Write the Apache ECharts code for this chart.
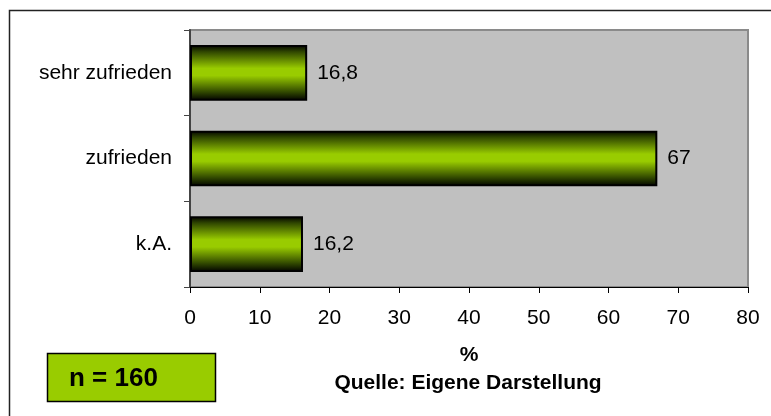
<!DOCTYPE html>
<html>
<head>
<meta charset="utf-8">
<script src="https://cdn.jsdelivr.net/npm/echarts@6/dist/echarts.min.js"></script>
<style>
  html, body { margin: 0; padding: 0; background: #fff; }
  #chart { width: 771px; height: 416px; }
</style>
</head>
<body>
<div id="chart"></div>
<script>
// Satisfaction ratings (percent of respondents)
const categories = ['sehr zufrieden', 'zufrieden', 'k.A.'];
const values = [16.8, 67, 16.2];
const xMin = 0, xMax = 80, xStep = 10;
const axisTitle = '%';
const sourceNote = 'Quelle: Eigene Darstellung';
const sampleNote = 'n = 160';

const font = '"Liberation Sans", Arial, sans-serif';

const barFill = new echarts.graphic.LinearGradient(0, 0, 0, 1, [
  { offset: 0.0, color: '#000000' },
  { offset: 0.12, color: '#2f4600' },
  { offset: 0.42, color: '#99cc00' },
  { offset: 0.55, color: '#99cc00' },
  { offset: 0.85, color: '#2f4600' },
  { offset: 1.0, color: '#000000' }
]);

const chart = echarts.init(document.getElementById('chart'), null, { renderer: 'canvas' });
chart.setOption({
  animation: false,
  backgroundColor: '#ffffff',
  grid: {
    left: 190, right: 23, top: 30, bottom: 129,
    show: true,
    backgroundColor: '#c0c0c0',
    borderColor: '#8a8a8a',
    borderWidth: 2
  },
  xAxis: {
    type: 'value',
    min: xMin, max: xMax, interval: xStep,
    splitLine: { show: false },
    axisLine: { show: true, onZero: false, lineStyle: { color: '#000', width: 1 } },
    axisTick: { show: true, length: 6, lineStyle: { color: '#000' } },
    axisLabel: { color: '#000', fontSize: 21, fontFamily: font, margin: 21 }
  },
  yAxis: {
    type: 'category',
    data: categories,
    inverse: true,
    axisLine: { show: true, lineStyle: { color: '#444', width: 2 } },
    axisTick: { show: true, length: 6, lineStyle: { color: '#444' } },
    axisLabel: { color: '#000', fontSize: 21, fontFamily: font, margin: 18 }
  },
  series: [{
    type: 'bar',
    data: values,
    barWidth: '65%',
    itemStyle: { color: barFill, borderColor: '#000', borderWidth: 2 },
    label: {
      show: true,
      position: 'right',
      distance: 10,
      color: '#000',
      fontSize: 21,
      fontFamily: font,
      formatter: p => String(p.value).replace('.', ',')
    }
  }],
  graphic: [
    {
      type: 'rect',
      shape: { x: 9.5, y: 10.5, width: 800, height: 500 },
      style: { fill: null, stroke: '#222', lineWidth: 1.5 },
      silent: true
    },
    {
      type: 'text',
      x: 469, y: 355,
      style: { text: axisTitle, fill: '#000', font: 'bold 21px ' + font, align: 'center', verticalAlign: 'middle' }
    },
    {
      type: 'text',
      x: 468, y: 383,
      style: { text: sourceNote, fill: '#000', font: 'bold 21px ' + font, align: 'center', verticalAlign: 'middle' }
    },
    {
      type: 'rect',
      shape: { x: 47.5, y: 353.5, width: 168, height: 48 },
      style: { fill: '#99cc00', stroke: '#000', lineWidth: 1.5 }
    },
    {
      type: 'text',
      x: 69, y: 379,
      style: { text: sampleNote, fill: '#000', font: 'bold 26px ' + font, align: 'left', verticalAlign: 'middle' }
    }
  ]
});
</script>
</body>
</html>
